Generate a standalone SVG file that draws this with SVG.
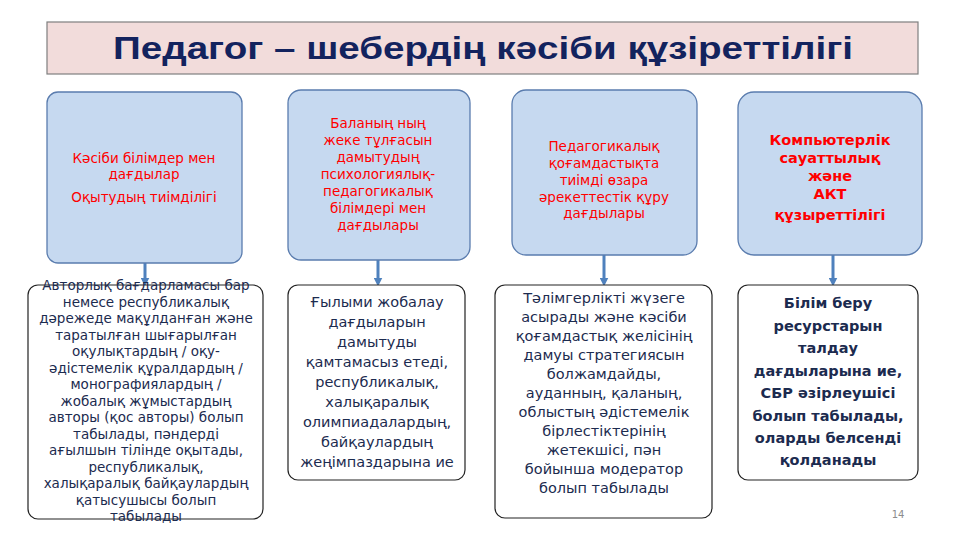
<svg xmlns="http://www.w3.org/2000/svg" width="960" height="540" viewBox="0 0 960 540">
<defs>
<style>
.top{fill:#c6d9f0;stroke:#5a7cae;stroke-width:1.3}
.bot{fill:#ffffff;stroke:#222;stroke-width:1.2}
.tr{font-family:"DejaVu Sans","Noto Sans",sans-serif;font-size:13.5px;fill:#ff0000;text-anchor:middle}
.trb{font-family:"DejaVu Sans","Noto Sans",sans-serif;font-size:14.5px;font-weight:bold;fill:#ff0000;text-anchor:middle}
.tb{font-family:"DejaVu Sans","Noto Sans",sans-serif;font-size:13.5px;fill:#1c2b4f;text-anchor:middle}
.tb2{font-family:"DejaVu Sans","Noto Sans",sans-serif;font-size:14.5px;fill:#1c2b4f;text-anchor:middle}
.tbb{font-family:"DejaVu Sans","Noto Sans",sans-serif;font-size:14.5px;font-weight:bold;fill:#1c2b4f;text-anchor:middle}
.conn{stroke:#4f81bd;stroke-width:3;fill:none}
</style>
<marker id="ah" viewBox="0 0 10 10" refX="5" refY="5" markerWidth="3" markerHeight="3" orient="auto">
<path d="M0,0 L10,5 L0,10 z" fill="#4f81bd"/>
</marker>
</defs>
<rect width="960" height="540" fill="#ffffff"/>

<g id="title">
<rect x="47" y="22" width="871" height="52" fill="#f2dcdb" stroke="#7f7f7f" stroke-width="1.2"/>
<text x="483" y="59" text-anchor="middle" font-family="Liberation Sans, Arial, sans-serif" font-weight="bold" font-size="31" fill="#13235e" textLength="740" lengthAdjust="spacingAndGlyphs">Педагог – шебердің кәсіби құзіреттілігі</text>
</g>

<g id="connectors">
<line class="conn" x1="145" y1="263" x2="145" y2="282" marker-end="url(#ah)"/>
<line class="conn" x1="378" y1="260" x2="378" y2="282" marker-end="url(#ah)"/>
<line class="conn" x1="604" y1="255" x2="604" y2="282" marker-end="url(#ah)"/>
<line class="conn" x1="833" y1="255" x2="833" y2="282" marker-end="url(#ah)"/>
</g>

<g id="top1">
<rect class="top" x="47" y="92" width="195" height="171" rx="11"/>
<text class="tr" x="144" y="163">Кәсіби білімдер мен</text>
<text class="tr" x="144" y="179">дағдылар</text>
<text class="tr" x="144" y="202">Оқытудың тиімділігі</text>
</g>

<g id="top2">
<rect class="top" x="288" y="90" width="182" height="170" rx="13"/>
<text class="tr" x="378" y="128">Баланың ның</text>
<text class="tr" x="378" y="145">жеке тұлғасын</text>
<text class="tr" x="378" y="162">дамытудың</text>
<text class="tr" x="378" y="179">психологиялық-</text>
<text class="tr" x="378" y="196">педагогикалық</text>
<text class="tr" x="378" y="213">білімдері мен</text>
<text class="tr" x="378" y="230">дағдылары</text>
</g>

<g id="top3">
<rect class="top" x="512" y="90" width="185" height="165" rx="14"/>
<text class="tr" x="604" y="151">Педагогикалық</text>
<text class="tr" x="604" y="168">қоғамдастықта</text>
<text class="tr" x="604" y="185">тиімді өзара</text>
<text class="tr" x="604" y="202">әрекеттестік құру</text>
<text class="tr" x="604" y="218">дағдылары</text>
</g>

<g id="top4">
<rect class="top" x="738" y="92" width="184" height="163" rx="16"/>
<text class="trb" x="830" y="145">Компьютерлік</text>
<text class="trb" x="830" y="163">сауаттылық</text>
<text class="trb" x="830" y="181">және</text>
<text class="trb" x="830" y="199">АКТ</text>
<text class="trb" x="830" y="220">құзыреттілігі</text>
</g>

<g id="bot1">
<rect class="bot" x="28" y="285" width="235" height="234" rx="10"/>
<text class="tb" x="146" y="290">Авторлық бағдарламасы бар</text>
<text class="tb" x="146" y="306.5">немесе республикалық</text>
<text class="tb" x="146" y="323">дәрежеде мақұлданған және</text>
<text class="tb" x="146" y="339.5">таратылған шығарылған</text>
<text class="tb" x="146" y="356">оқулықтардың / оқу-</text>
<text class="tb" x="146" y="372.5">әдістемелік құралдардың /</text>
<text class="tb" x="146" y="389">монографиялардың /</text>
<text class="tb" x="146" y="405.5">жобалық жұмыстардың</text>
<text class="tb" x="146" y="422">авторы (қос авторы) болып</text>
<text class="tb" x="146" y="438.5">табылады, пәндерді</text>
<text class="tb" x="146" y="455">ағылшын тілінде оқытады,</text>
<text class="tb" x="146" y="471.5">республикалық,</text>
<text class="tb" x="146" y="488">халықаралық байқаулардың</text>
<text class="tb" x="146" y="504.5">қатысушысы болып</text>
<text class="tb" x="146" y="521">табылады</text>
</g>

<g id="bot2">
<rect class="bot" x="288" y="285" width="177" height="195" rx="10"/>
<text class="tb2" x="377" y="307">Ғылыми жобалау</text>
<text class="tb2" x="377" y="327">дағдыларын</text>
<text class="tb2" x="377" y="347">дамытуды</text>
<text class="tb2" x="377" y="367">қамтамасыз етеді,</text>
<text class="tb2" x="377" y="387">республикалық,</text>
<text class="tb2" x="377" y="407">халықаралық</text>
<text class="tb2" x="377" y="427">олимпиадалардың,</text>
<text class="tb2" x="377" y="447">байқаулардың</text>
<text class="tb2" x="377" y="467">жеңімпаздарына ие</text>
</g>

<g id="bot3">
<rect class="bot" x="495" y="285" width="217" height="233" rx="10"/>
<text class="tb2" x="604" y="303">Тәлімгерлікті жүзеге</text>
<text class="tb2" x="604" y="322">асырады және кәсіби</text>
<text class="tb2" x="604" y="341">қоғамдастық желісінің</text>
<text class="tb2" x="604" y="360">дамуы стратегиясын</text>
<text class="tb2" x="604" y="379">болжамдайды,</text>
<text class="tb2" x="604" y="398">ауданның, қаланың,</text>
<text class="tb2" x="604" y="417">облыстың әдістемелік</text>
<text class="tb2" x="604" y="436">бірлестіктерінің</text>
<text class="tb2" x="604" y="455">жетекшісі, пән</text>
<text class="tb2" x="604" y="474">бойынша модератор</text>
<text class="tb2" x="604" y="493">болып табылады</text>
</g>

<g id="bot4">
<rect class="bot" x="738" y="285" width="180" height="195" rx="10"/>
<text class="tbb" x="828" y="308">Білім беру</text>
<text class="tbb" x="828" y="331">ресурстарын</text>
<text class="tbb" x="828" y="353">талдау</text>
<text class="tbb" x="828" y="376">дағдыларына ие,</text>
<text class="tbb" x="828" y="398">СБР әзірлеушісі</text>
<text class="tbb" x="828" y="421">болып табылады,</text>
<text class="tbb" x="828" y="443">оларды белсенді</text>
<text class="tbb" x="828" y="465">қолданады</text>
</g>

<text x="898" y="518" text-anchor="middle" font-family="DejaVu Sans, sans-serif" font-size="10" fill="#8c8c8c">14</text>
</svg>
